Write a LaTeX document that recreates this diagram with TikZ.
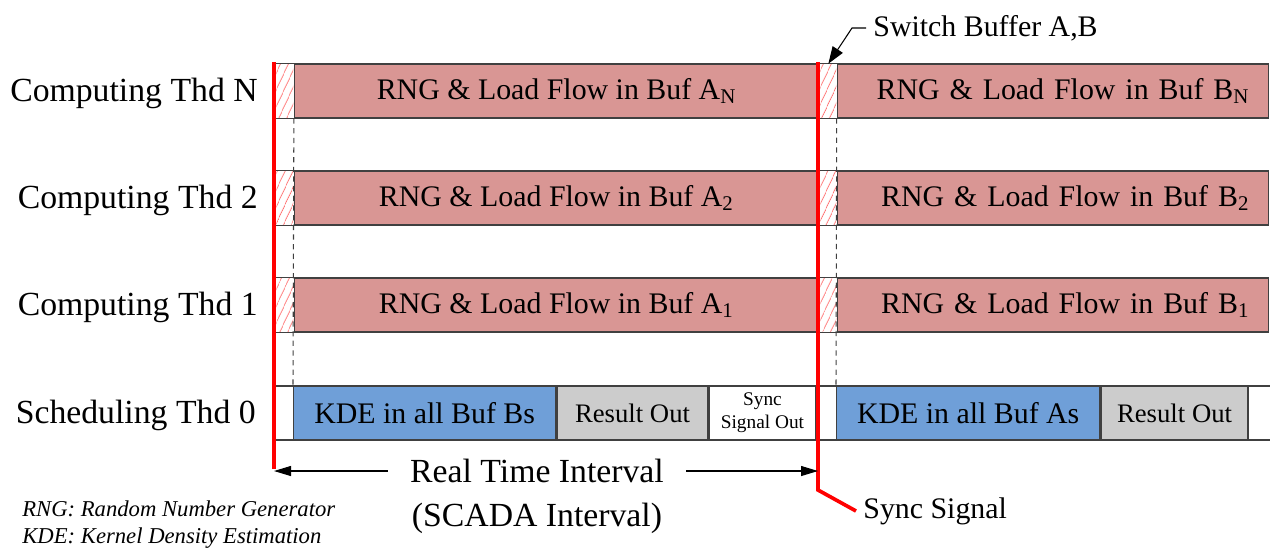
\documentclass[tikz,border=0pt]{standalone}
\usepackage{fontspec}
\setmainfont{Liberation Serif}
\usetikzlibrary{arrows.meta,positioning,patterns.meta}
\definecolor{bufred}{RGB}{217,150,148}
\definecolor{kdeblue}{RGB}{111,159,216}
\definecolor{outgray}{RGB}{204,204,204}
\definecolor{edgegray}{RGB}{64,64,64}

\begin{document}
\begin{tikzpicture}[x=0.02cm, y=-0.02cm,
  lbl/.style={font=\fontsize{19.2}{23}\selectfont, anchor=east, inner sep=0pt},
  cell/.style={draw=edgegray, line width=0.8pt, minimum height=1.08cm,
    inner sep=0pt, anchor=west, font=\fontsize{17}{20}\selectfont},
  bufbox/.style={cell, fill=bufred},
  hatch/.style={minimum height=1.08cm, inner sep=0pt, anchor=west,
    pattern={Lines[angle=65, distance=4pt, line width=0.5pt]}, pattern color=red!55},
  kde/.style={cell, fill=kdeblue},
  outbox/.style={cell, fill=outgray, font=\fontsize{15.2}{18}\selectfont},
  syncbox/.style={cell, fill=white, align=center, font=\fontsize{11}{13}\selectfont},
  rowline/.style={edgegray, line width=0.8pt},
  guide/.style={edgegray, line width=0.6pt, dash pattern=on 3pt off 2.5pt},
  sig/.style={red, line width=2.1pt},
  arr/.style={-{Triangle[length=0.34cm, width=0.2cm]}, line width=0.6pt},
  big/.style={font=\fontsize{19.2}{23}\selectfont},
  mid/.style={font=\fontsize{17}{20}\selectfont},
]
\useasboundingbox (0,0) rectangle (1270,549);

% computing threads
\foreach \r/\yy in {N/91, 2/198, 1/305} {
  \node[lbl] (t\r) at (258,\yy+2) {Computing Thd \r};
  \node[hatch, minimum width=0.34cm] (ha\r) at (276,\yy) {};
  \node[bufbox, minimum width=10.48cm, right=0pt of ha\r] (a\r)
    {RNG \& Load Flow in Buf A\textsubscript{\r}};
  \node[hatch, minimum width=0.32cm] (hb\r) at (820,\yy) {};
  \node[bufbox, minimum width=8.62cm, text width=7.86cm, align=right,
    inner xsep=0.38cm, right=0pt of hb\r] (b\r)
    {RNG \& Load Flow in Buf B\textsubscript{\r}};
  \draw[rowline] (ha\r.north west) -- (ha\r.north east)
    (ha\r.south west) -- (ha\r.south east);
  \draw[rowline] (hb\r.north west) -- (hb\r.north east)
    (hb\r.south west) -- (hb\r.south east);
}

% scheduling thread
\draw[rowline] (275,386) -- (1270,386) (275,440) -- (1270,440);
\node[lbl] (t0) at (256,415) {Scheduling Thd 0};
\node[kde, minimum width=5.24cm] (kA) at (293,413) {KDE in all Buf Bs};
\node[outbox, minimum width=3.02cm, right=0pt of kA] (oA) {Result Out};
\node[syncbox, minimum width=2.12cm, right=0pt of oA] (sA) {Sync\\Signal Out};
\node[kde, minimum width=5.26cm] (kB) at (836,413) {KDE in all Buf As};
\node[outbox, minimum width=2.94cm, right=0pt of kB] (oB) {Result Out};

\draw[guide] (haN.south east) -- (kA.north west);
\draw[guide] (hbN.south east) -- (kB.north west);

% sync signals
\coordinate (s1t) at (274,62);
\coordinate (s1b) at (274,469);
\coordinate (s2t) at (818,62);
\coordinate (s2k) at (818,490);
\node[mid, anchor=west, inner sep=4pt] (sync) at (856,511) {Sync Signal};
\draw[sig] (s1t) -- (s1b);
\draw[sig] (s2t) -- (s2k) -- (sync.west);

% interval
\node[big, inner xsep=0.44cm] (rti) at (537,471) {Real Time Interval};
\node[big, inner sep=0pt] (scada) at (537,518) {(SCADA Interval)};
\draw[arr] (rti.west) -- (rti.west -| s1b);
\draw[arr] (rti.east) -- (rti.east -| s2t);

% buffer switch
\node[mid, anchor=west, inner sep=4pt] (swb) at (866,28) {Switch Buffer A,B};
\draw[arr, -{Triangle[length=0.34cm, width=0.24cm]}] (swb.west) -- ++(-14,0) -- (hbN.north);

\node[font=\itshape\fontsize{12.9}{15.3}\selectfont, align=left, anchor=west,
  inner sep=0pt] (legend) at (22,525)
  {RNG: Random Number Generator\\KDE: Kernel Density Estimation};
\end{tikzpicture}
\end{document}
